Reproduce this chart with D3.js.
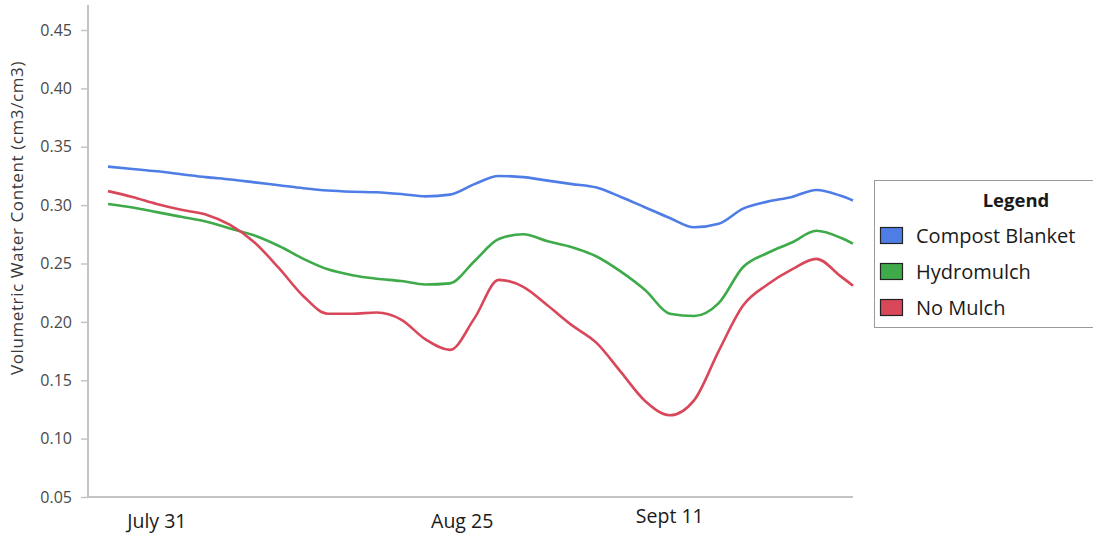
<!DOCTYPE html>
<html>
<head>
  <meta charset="utf-8">
  <script src="https://cdn.jsdelivr.net/npm/d3@7"></script>
  <style>
    body { margin: 0; background: #fff; }
    text { font-family: "Open Sans", "Noto Sans", sans-serif; }
  </style>
</head>
<body>
<script>
  // days after the first reading (Jul 27), readings every 2 days
  var days = [0,2,4,6,8,10,12,14,16,18,20,22,24,26,28,30,32,34,36,38,40,42,44,46,48,50,52,54,56,58,60,61];
  var compostBlanket = [0.333,0.331,0.329,0.3265,0.324,0.322,0.3195,0.317,0.3145,0.3125,0.3115,0.311,0.3095,0.3075,0.309,0.318,
                        0.325,0.324,0.321,0.318,0.315,0.307,0.298,0.289,0.281,0.284,0.297,0.303,0.307,0.313,0.308,0.304];
  var hydromulch = [0.301,0.298,0.294,0.290,0.286,0.280,0.274,0.265,0.254,0.245,0.240,0.237,0.235,0.232,0.233,0.252,
                    0.271,0.275,0.269,0.264,0.256,0.243,0.227,0.207,0.205,0.216,0.247,0.259,0.268,0.278,0.272,0.267];
  var noMulch = [0.312,0.307,0.301,0.296,0.292,0.283,0.268,0.246,0.222,0.207,0.207,0.208,0.202,0.185,0.176,0.203,
                 0.236,0.230,0.214,0.197,0.182,0.157,0.132,0.120,0.133,0.175,0.214,0.232,0.245,0.254,0.239,0.231];
  var seriesNames = ["Compost Blanket", "Hydromulch", "No Mulch"];
  var seriesColors = ["#4f7de6", "#3faa4a", "#d9475a"];
  var tickDates = [new Date(2014, 6, 31), new Date(2014, 7, 25), new Date(2014, 8, 11)];
  var tickLabels = ["July 31", "Aug 25", "Sept 11"];
  var yTicks = [0.05, 0.10, 0.15, 0.20, 0.25, 0.30, 0.35, 0.40, 0.45];

  var start = new Date(2014, 6, 27);
  function dayToDate(d) { return d3.timeDay.offset(start, d); }

  var width = 1093, height = 536;
  var left = 88, plotRight = 853, bottom = 497;

  var svg = d3.select("body").append("svg")
      .attr("width", width)
      .attr("height", height);

  var x = d3.scaleTime()
      .domain([start, dayToDate(61)])
      .range([108, plotRight]);

  var y = d3.scaleLinear()
      .domain([0.05, 0.45])
      .range([bottom, 30]);

  // axes
  svg.append("line")
      .attr("x1", left).attr("x2", left)
      .attr("y1", 5).attr("y2", bottom)
      .attr("stroke", "#c4c4c4").attr("stroke-width", 2);
  svg.append("line")
      .attr("x1", left).attr("x2", plotRight)
      .attr("y1", bottom).attr("y2", bottom)
      .attr("stroke", "#c4c4c4").attr("stroke-width", 2);

  var yAxis = svg.append("g")
      .attr("transform", "translate(" + left + ",0)")
      .call(d3.axisLeft(y).tickValues(yTicks).tickFormat(d3.format(".2f")).tickSize(7).tickPadding(9));
  yAxis.select(".domain").remove();
  yAxis.selectAll(".tick line").attr("stroke", "#c4c4c4").attr("stroke-width", 1.5);
  yAxis.selectAll(".tick text")
      .attr("fill", "#4a4a4a")
      .style("font-size", "16px")
      .style("font-family", "'Open Sans', sans-serif");

  svg.selectAll(".xlab")
      .data(tickDates)
      .enter().append("text")
      .attr("class", "xlab")
      .attr("x", function(d) { return x(d); })
      .attr("y", function(d, i) { return i == 2 ? 523 : 528; })
      .attr("text-anchor", "middle")
      .attr("fill", "#1a1a1a")
      .style("font-size", "19.5px")
      .text(function(d, i) { return tickLabels[i]; });

  svg.append("text")
      .attr("transform", "translate(23,218) rotate(-90)")
      .attr("text-anchor", "middle")
      .attr("fill", "#3a3a3a")
      .style("font-size", "17px")
      .style("letter-spacing", "0.6px")
      .text("Volumetric Water Content (cm3/cm3)");

  // lines
  var line = d3.line()
      .x(function(d) { return x(dayToDate(d[0])); })
      .y(function(d) { return y(d[1]); })
      .curve(d3.curveMonotoneX);

  [compostBlanket, hydromulch, noMulch].forEach(function(vals, i) {
    svg.append("path")
        .datum(days.map(function(d, j) { return [d, vals[j]]; }))
        .attr("fill", "none")
        .attr("stroke", seriesColors[i])
        .attr("stroke-width", 2.6)
        .attr("d", line);
  });

  // legend
  var legend = svg.append("g").attr("transform", "translate(874,180)");
  legend.append("rect")
      .attr("x", 0.5).attr("y", 0.5)
      .attr("width", 230).attr("height", 147)
      .attr("fill", "#fff").attr("stroke", "#9a9a9a");
  legend.append("text")
      .attr("x", 142).attr("y", 27)
      .attr("text-anchor", "middle")
      .attr("font-weight", "bold")
      .attr("fill", "#1a1a1a")
      .style("font-size", "18.5px")
      .text("Legend");
  var rows = legend.selectAll(".row")
      .data(seriesNames)
      .enter().append("g")
      .attr("class", "row")
      .attr("transform", function(d, i) { return "translate(0," + (56 + i * 36) + ")"; });
  rows.append("rect")
      .attr("x", 6.5).attr("y", -8.5)
      .attr("width", 22).attr("height", 16)
      .attr("fill", function(d, i) { return seriesColors[i]; })
      .attr("stroke", "#222").attr("stroke-width", 1.2);
  rows.append("text")
      .attr("x", 42).attr("y", 7)
      .attr("fill", "#1a1a1a")
      .style("font-size", "20px")
      .text(function(d) { return d; });
</script>
</body>
</html>
